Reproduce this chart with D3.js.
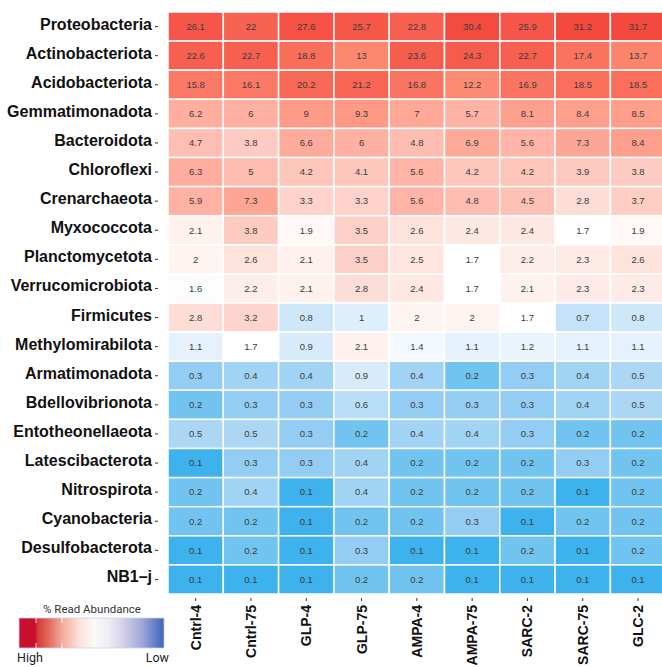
<!DOCTYPE html>
<html>
<head>
<meta charset="utf-8">
<script src="https://cdn.jsdelivr.net/npm/d3@7"></script>
<style>
  html, body { margin: 0; padding: 0; background: #fff; }
  svg { display: block; }
</style>
</head>
<body>
<svg id="chart" width="662" height="667"></svg>
<script>
// Phyla (rows, top to bottom) and samples (columns)
const phyla = [
  "Proteobacteria", "Actinobacteriota", "Acidobacteriota", "Gemmatimonadota",
  "Bacteroidota", "Chloroflexi", "Crenarchaeota", "Myxococcota",
  "Planctomycetota", "Verrucomicrobiota", "Firmicutes", "Methylomirabilota",
  "Armatimonadota", "Bdellovibrionota", "Entotheonellaeota", "Latescibacterota",
  "Nitrospirota", "Cyanobacteria", "Desulfobacterota", "NB1\u2013j"
];
const samples = ["Cntrl-4", "Cntrl-75", "GLP-4", "GLP-75", "AMPA-4", "AMPA-75", "SARC-2", "SARC-75", "GLC-2"];

// % read abundance, one array per phylum in the order above
const abundance = [
  [26.1, 22, 27.6, 25.7, 22.8, 30.4, 25.9, 31.2, 31.7],
  [22.6, 22.7, 18.8, 13, 23.6, 24.3, 22.7, 17.4, 13.7],
  [15.8, 16.1, 20.2, 21.2, 16.8, 12.2, 16.9, 18.5, 18.5],
  [6.2, 6, 9, 9.3, 7, 5.7, 8.1, 8.4, 8.5],
  [4.7, 3.8, 6.6, 6, 4.8, 6.9, 5.6, 7.3, 8.4],
  [6.3, 5, 4.2, 4.1, 5.6, 4.2, 4.2, 3.9, 3.8],
  [5.9, 7.3, 3.3, 3.3, 5.6, 4.8, 4.5, 2.8, 3.7],
  [2.1, 3.8, 1.9, 3.5, 2.6, 2.4, 2.4, 1.7, 1.9],
  [2, 2.6, 2.1, 3.5, 2.5, 1.7, 2.2, 2.3, 2.6],
  [1.6, 2.2, 2.1, 2.8, 2.4, 1.7, 2.1, 2.3, 2.3],
  [2.8, 3.2, 0.8, 1, 2, 2, 1.7, 0.7, 0.8],
  [1.1, 1.7, 0.9, 2.1, 1.4, 1.1, 1.2, 1.1, 1.1],
  [0.3, 0.4, 0.4, 0.9, 0.4, 0.2, 0.3, 0.4, 0.5],
  [0.2, 0.3, 0.3, 0.6, 0.3, 0.3, 0.3, 0.4, 0.5],
  [0.5, 0.5, 0.3, 0.2, 0.4, 0.4, 0.3, 0.2, 0.2],
  [0.1, 0.3, 0.3, 0.4, 0.2, 0.2, 0.2, 0.3, 0.2],
  [0.2, 0.4, 0.1, 0.4, 0.2, 0.2, 0.2, 0.1, 0.2],
  [0.2, 0.2, 0.1, 0.2, 0.2, 0.3, 0.1, 0.2, 0.2],
  [0.1, 0.2, 0.1, 0.3, 0.1, 0.1, 0.2, 0.1, 0.2],
  [0.1, 0.1, 0.1, 0.2, 0.2, 0.1, 0.1, 0.1, 0.1]
];

// Diverging log colour ramp: blue (rare) -> white -> red (abundant)
const colorStops = [0.1, 0.2, 0.3, 0.5, 1, 1.7, 3, 6, 13, 32];
const colorRange = ["#3db2ec", "#72c4f0", "#93cdf3", "#abd7f5", "#dfeefb",
                    "#ffffff", "#fdd9d2", "#ffb0a2", "#fd8870", "#f3473d"];

const legendTitle = "% Read Abundance";
const legendEnds = ["High", "Low"];

const svg = d3.select("#chart");

const x = d3.scaleBand().domain(samples).range([168, 168 + 9 * 55.3]);
const y = d3.scaleBand().domain(phyla).range([12, 594]);
const color = d3.scaleLog().domain(colorStops).range(colorRange)
  .interpolate(d3.interpolateRgb).clamp(true);

const cells = [];
phyla.forEach((p, i) => samples.forEach((s, j) => cells.push({ p, s, v: abundance[i][j] })));

// heatmap tiles
svg.append("g").selectAll("rect").data(cells).join("rect")
  .attr("x", d => x(d.s))
  .attr("y", d => y(d.p))
  .attr("width", x.bandwidth())
  .attr("height", y.bandwidth())
  .attr("fill", d => color(d.v))
  .attr("stroke", "#fff")
  .attr("stroke-width", 1.5);

// value labels in each tile
svg.append("g").selectAll("text").data(cells).join("text")
  .attr("x", d => x(d.s) + x.bandwidth() / 2)
  .attr("y", d => y(d.p) + y.bandwidth() / 2)
  .attr("dy", "0.35em")
  .attr("text-anchor", "middle")
  .attr("font-family", "Liberation Sans, Arial, Helvetica, sans-serif")
  .attr("font-size", 9.5)
  .attr("fill", "#3c3c3c")
  .text(d => d.v);

// row axis: labels and short ticks
const rowAxis = svg.append("g");
rowAxis.selectAll("line").data(phyla).join("line")
  .attr("x1", 155).attr("x2", 158)
  .attr("y1", d => y(d) + y.bandwidth() / 2)
  .attr("y2", d => y(d) + y.bandwidth() / 2)
  .attr("stroke", "#333").attr("stroke-width", 1);
rowAxis.selectAll("text").data(phyla).join("text")
  .attr("x", 152)
  .attr("y", d => y(d) + y.bandwidth() / 2 + 3)
  .attr("text-anchor", "end")
  .attr("font-family", "Liberation Sans, Arial, Helvetica, sans-serif")
  .attr("font-weight", "bold")
  .attr("font-size", 16)
  .attr("fill", "#111")
  .text(d => d);

// column axis: ticks and rotated labels
const colAxis = svg.append("g");
colAxis.selectAll("line").data(samples).join("line")
  .attr("x1", d => x(d) + x.bandwidth() / 2)
  .attr("x2", d => x(d) + x.bandwidth() / 2)
  .attr("y1", 598).attr("y2", 601)
  .attr("stroke", "#333").attr("stroke-width", 1);
colAxis.selectAll("text").data(samples).join("text")
  .attr("transform", d => `translate(${x(d) + x.bandwidth() / 2},605) rotate(-90)`)
  .attr("dy", "0.36em")
  .attr("text-anchor", "end")
  .attr("font-family", "Liberation Sans, Arial, Helvetica, sans-serif")
  .attr("font-weight", "bold")
  .attr("font-size", 14)
  .attr("fill", "#111")
  .text(d => d);

// legend
const defs = svg.append("defs");
const grad = defs.append("linearGradient").attr("id", "abundanceGrad")
  .attr("x1", "0%").attr("x2", "100%").attr("y1", "0%").attr("y2", "0%");
[
  [0, "#c80f2e"], [0.115, "#c80f2e"], [0.125, "#d43a35"], [0.2, "#e2675a"],
  [0.3, "#f4ab9c"], [0.42, "#fbe3dc"], [0.52, "#fbf8f8"], [0.62, "#eeecf5"],
  [0.72, "#d3d1ea"], [0.85, "#9ea7d8"], [1, "#3d63b9"]
].forEach(([o, c]) => grad.append("stop").attr("offset", o).attr("stop-color", c));

const lg = svg.append("g");
lg.append("text")
  .attr("x", 92).attr("y", 613)
  .attr("text-anchor", "middle")
  .attr("font-family", "Roboto, Liberation Sans, sans-serif")
  .attr("font-size", 11.5)
  .attr("fill", "#333")
  .text(legendTitle);
lg.append("rect")
  .attr("x", 19).attr("y", 618).attr("width", 145).attr("height", 30)
  .attr("fill", "url(#abundanceGrad)")
  .attr("stroke", "#cdd5e8").attr("stroke-width", 0.8);
[36, 62].forEach(tx => {
  lg.append("line").attr("x1", tx).attr("x2", tx).attr("y1", 618).attr("y2", 623)
    .attr("stroke", "#fff").attr("stroke-opacity", 0.8).attr("stroke-width", 1);
  lg.append("line").attr("x1", tx).attr("x2", tx).attr("y1", 643).attr("y2", 648)
    .attr("stroke", "#fff").attr("stroke-opacity", 0.8).attr("stroke-width", 1);
});
lg.append("text")
  .attr("x", 17).attr("y", 662)
  .attr("font-family", "Roboto, Liberation Sans, sans-serif")
  .attr("font-size", 12.5)
  .attr("fill", "#222")
  .text(legendEnds[0]);
lg.append("text")
  .attr("x", 169).attr("y", 662)
  .attr("text-anchor", "end")
  .attr("font-family", "Roboto, Liberation Sans, sans-serif")
  .attr("font-size", 12.5)
  .attr("fill", "#222")
  .text(legendEnds[1]);
</script>
</body>
</html>
